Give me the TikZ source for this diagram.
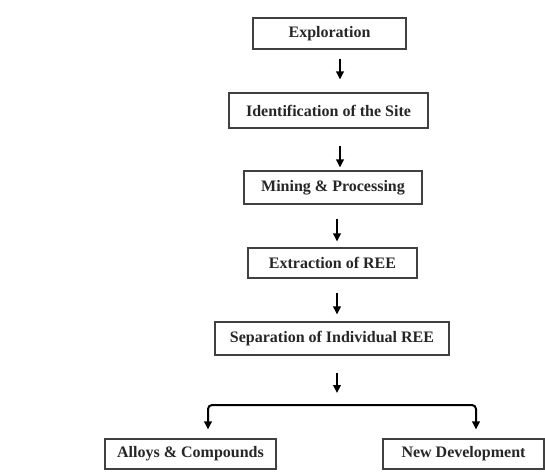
\documentclass[tikz,border=0pt]{standalone}
\usepackage{fontspec}
\setmainfont{Liberation Serif}
\usetikzlibrary{arrows.meta}
\begin{document}
\begin{tikzpicture}[x=1pt,y=1pt,
  box/.style={draw=black!75, line width=1.1pt, inner sep=0pt, font=\bfseries\fontsize{16}{18}\selectfont, text=black!85},
  arr/.style={line width=2pt, -{Triangle[width=7.5pt,length=8pt]}},
  arrs/.style={line width=2pt, {Triangle[width=7.5pt,length=8pt]}-{Triangle[width=7.5pt,length=8pt]}, rounded corners=4pt}]
\useasboundingbox (0,0) rectangle (545,475);
\node[box, minimum width=153pt, minimum height=31pt] (expl) at (329.5,441.5) {Exploration};
\node[box, minimum width=199pt, minimum height=35pt] (ident) at (328.5,364.5) {Identification of the Site};
\node[box, minimum width=178pt, minimum height=33pt] (mine) at (333,287.5) {Mining \& Processing};
\node[box, minimum width=169pt, minimum height=30pt] (extr) at (332.5,212) {Extraction of REE};
\node[box, minimum width=234pt, minimum height=33pt] (sep) at (332,136.5) {Separation of Individual REE};
\node[box, minimum width=171pt, minimum height=30pt] (alloy) at (190.5,21) {Alloys \& Compounds};
\node[box, minimum width=161pt, minimum height=30pt] (newd) at (463.5,21) {New Development};
\coordinate (split) at (337,70);
\draw[arr, shorten <=9pt, shorten >=13pt] ([xshift=10.5pt]expl.south) -- ([xshift=11.5pt]ident.north);
\draw[arr, shorten <=17pt, shorten >=3pt] ([xshift=11.5pt]ident.south) -- ([xshift=7pt]mine.north);
\draw[arr, shorten <=14pt, shorten >=6pt] ([xshift=4pt]mine.south) -- ([xshift=4.5pt]extr.north);
\draw[arr, shorten <=14pt, shorten >=7pt] ([xshift=4.5pt]extr.south) -- ([xshift=5pt]sep.north);
\draw[arr, shorten <=17pt, shorten >=12pt] ([xshift=5pt]sep.south) -- (split);
\draw[arrs, shorten <=9pt, shorten >=9pt] ([xshift=17.5pt]alloy.north) |- (split) -| ([xshift=12.5pt]newd.north);
\end{tikzpicture}
\end{document}
